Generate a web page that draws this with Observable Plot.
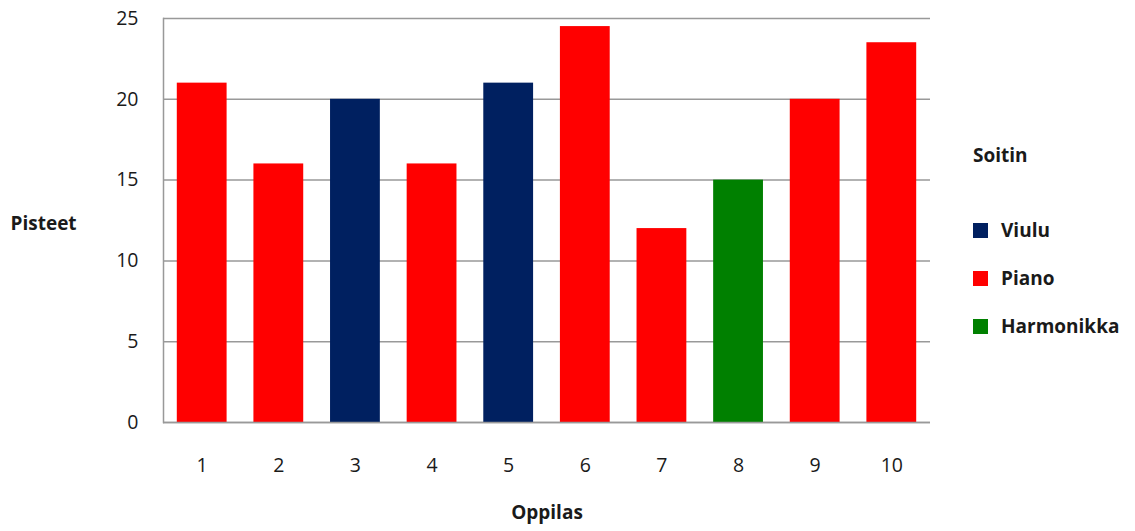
<!DOCTYPE html>
<html>
<head>
<meta charset="utf-8">
<script src="https://cdn.jsdelivr.net/npm/d3@7"></script>
<script src="https://cdn.jsdelivr.net/npm/@observablehq/plot@0.6"></script>
<style>
  html, body { margin: 0; padding: 0; background: #fff; }
  #wrap { position: relative; width: 1135px; height: 531px; font-family: "Open Sans", Lato, sans-serif; }
  #legend { position: absolute; left: 973px; top: 140px; color: #1a1a1a; font-size: 19px; }
  #legend .title { font-weight: bold; height: 30px; line-height: 30px; margin-bottom: 36px; }
  #legend .item { display: flex; align-items: center; height: 48px; font-weight: bold; }
  #legend .sw { width: 15px; height: 15px; margin-right: 13px; flex: none; }
</style>
</head>
<body>
<div id="wrap"></div>
<script>
const students = ["1","2","3","4","5","6","7","8","9","10"];
const scores = [21, 16, 20, 16, 21, 24.5, 12, 15, 20, 23.5];
const instruments = ["Piano","Piano","Viulu","Piano","Viulu","Piano","Piano","Harmonikka","Piano","Piano"];
const legendTitle = "Soitin";
const categories = ["Viulu","Piano","Harmonikka"];
const colors = ["#002060","#ff0000","#008000"];
const yTicks = [0, 5, 10, 15, 20, 25];
const xTitle = "Oppilas";
const yTitle = "Pisteet";

const data = students.map((s, i) => ({student: s, score: scores[i], instrument: instruments[i]}));

const chart = Plot.plot({
  width: 1135,
  height: 531,
  marginTop: 18,
  marginBottom: 109,
  marginLeft: 163,
  marginRight: 205,
  style: {fontFamily: "'Open Sans', Lato, sans-serif", fontSize: "19.5px", color: "#1a1a1a", background: "#fff"},
  x: {domain: students, paddingInner: 0.35, paddingOuter: 0.18, round: false, label: null, tickSize: 0, tickPadding: 36},
  y: {domain: [0, 25], ticks: yTicks, label: null, tickSize: 0, tickPadding: 25},
  color: {domain: categories, range: colors},
  marks: [
    Plot.gridY(yTicks, {stroke: "#999", strokeOpacity: 1, strokeWidth: 1.5}),
    Plot.barY(data, {x: "student", y: "score", fill: "instrument"}),
    Plot.frame({anchor: "left", stroke: "#999", strokeWidth: 1.5}),
    Plot.ruleY([0], {stroke: "#999", strokeWidth: 1.5}),
    Plot.text([yTitle], {frameAnchor: "left", dx: -153, dy: 3, textAnchor: "start", fontWeight: "bold", fontSize: 19, fill: "#1a1a1a"}),
    Plot.text([xTitle], {frameAnchor: "bottom", dy: 96, fontWeight: "bold", fontSize: 19, fill: "#1a1a1a"})
  ]
});
const wrap = document.getElementById("wrap");
wrap.appendChild(chart);

const legend = document.createElement("div");
legend.id = "legend";
const t = document.createElement("div");
t.className = "title";
t.textContent = legendTitle;
legend.appendChild(t);
categories.forEach((c, i) => {
  const it = document.createElement("div");
  it.className = "item";
  const sw = document.createElement("span");
  sw.className = "sw";
  sw.style.background = colors[i];
  const lb = document.createElement("span");
  lb.textContent = c;
  it.appendChild(sw);
  it.appendChild(lb);
  legend.appendChild(it);
});
wrap.appendChild(legend);
</script>
</body>
</html>
